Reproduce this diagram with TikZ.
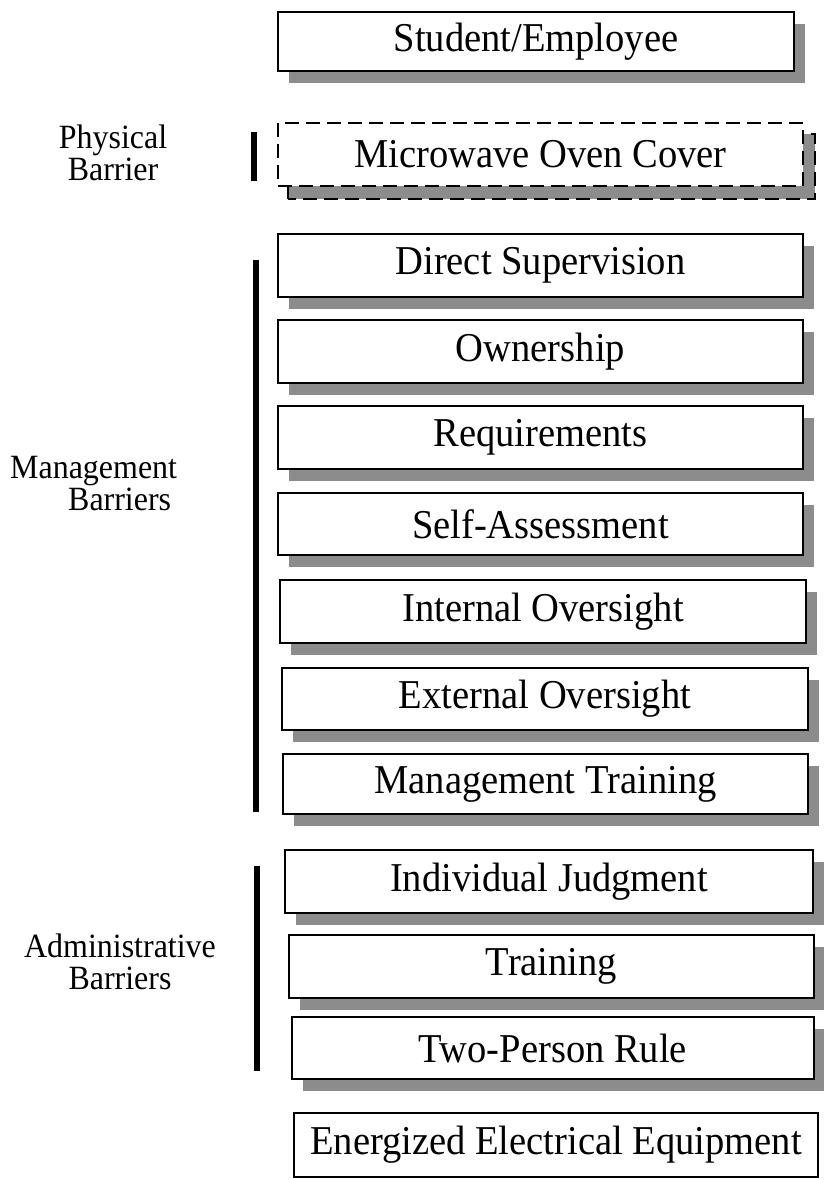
\documentclass[tikz,border=0pt]{standalone}
\usepackage{fontspec}
\setmainfont{Liberation Serif}[FakeStretch=0.94]
\usetikzlibrary{shadows,backgrounds}
\definecolor{shadowgray}{HTML}{8C8C8C}
\tikzset{
  box/.style={draw=black, line width=2pt, fill=white, inner sep=0pt,
    font=\fontsize{41}{41}\selectfont,
    drop shadow={shadow xshift=11pt, shadow yshift=-12pt, fill=shadowgray, opacity=1}},
  plainbox/.style={draw=black, line width=2pt, fill=white, inner sep=0pt,
    font=\fontsize{41}{41}\selectfont},
  dashbox/.style={draw=black, line width=2pt, fill=white, inner sep=0pt,
    dash pattern=on 14pt off 7pt, font=\fontsize{41}{41}\selectfont},
  lbl/.style={font=\fontsize{34}{32}\selectfont, inner sep=0pt},
  bar/.style={line width=6pt, black}
}
\begin{document}
\begin{tikzpicture}[x=1pt,y=-1pt]
\useasboundingbox (0,0) rectangle (824,1179);
\node[box, minimum width=516pt, minimum height=59pt] (stud) at (536,41.5) {Student/Employee};
\node[dashbox, minimum width=525pt, minimum height=63pt] (mw) at (540.5,154.5) {Microwave Oven Cover};
\begin{scope}[on background layer]
\draw[line width=2pt, fill=shadowgray, dash pattern=on 14pt off 7pt]
  ([xshift=11pt,yshift=-12pt]mw.south west) rectangle ([xshift=11pt,yshift=-12pt]mw.north east);
\end{scope}
\node[box, minimum width=525pt, minimum height=63pt] (ds) at (540.5,265.5) {Direct Supervision};
\node[box, minimum width=525pt, minimum height=63pt] (own) at (540.5,351.5) {Ownership};
\node[box, minimum width=525pt, minimum height=63pt] (req) at (540.5,437.5) {Requirements};
\node[box, minimum width=525pt, minimum height=62pt] (sa) at (540.5,524) {Self-Assessment};
\node[box, minimum width=526pt, minimum height=63pt] (io) at (543,611.5) {Internal Oversight};
\node[box, minimum width=526pt, minimum height=62pt] (eo) at (545,699) {External Oversight};
\node[box, minimum width=525pt, minimum height=60pt] (mt) at (545.5,784) {Management Training};
\node[box, minimum width=528pt, minimum height=63pt] (ij) at (549,881.5) {Individual Judgment};
\node[box, minimum width=525pt, minimum height=63pt] (tr) at (551.5,966.5) {Training};
\node[box, minimum width=522pt, minimum height=62pt] (tp) at (553,1048) {Two-Person Rule};
\node[plainbox, minimum width=524pt, minimum height=64pt] (en) at (556,1145) {Energized Electrical Equipment};

\node[lbl, align=center] (phys) at (113,153) {Physical\\Barrier};
\node[lbl, align=left, anchor=west] (mgmt) at (10,484) {Management\\\hspace{58pt}Barriers};
\node[lbl, align=center] (admin) at (120,962) {Administrative\\Barriers};

\coordinate (pb1) at (254,132); \coordinate (pb2) at (254,181);
\coordinate (mb1) at (256,260); \coordinate (mb2) at (256,812);
\coordinate (ab1) at (257,866); \coordinate (ab2) at (257,1071);
\draw[bar] (pb1) -- (pb2);
\draw[bar] (mb1) -- (mb2);
\draw[bar] (ab1) -- (ab2);
\end{tikzpicture}
\end{document}
